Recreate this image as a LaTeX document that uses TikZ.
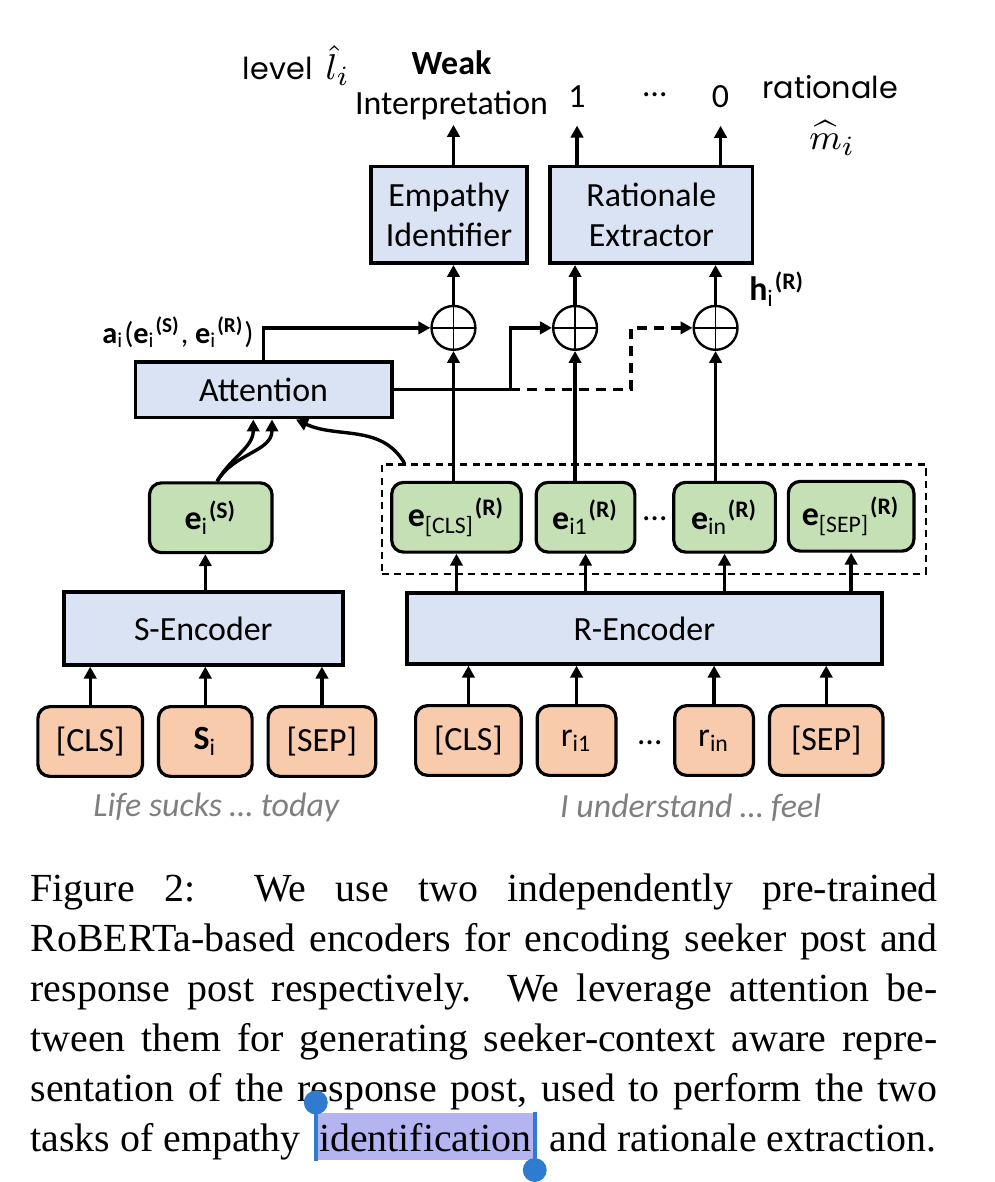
\documentclass[tikz,border=0pt]{standalone}
\usepackage{fontspec}
\setmainfont{Carlito}
\newfontfamily\capfont{Liberation Serif}
\newfontfamily\gothic{Poppins}
\usetikzlibrary{arrows.meta,calc}

\definecolor{blockblue}{HTML}{DAE3F3}
\definecolor{embgreen}{HTML}{C5E0B4}
\definecolor{tokorange}{HTML}{F8CBAD}
\definecolor{notegray}{HTML}{7F7F7F}
\definecolor{hlfill}{HTML}{B4B4F0}
\definecolor{handleblue}{HTML}{2E7BCF}

\newcommand{\tsub}[1]{\textsubscript{#1}}
\newcommand{\tsup}[1]{\textsuperscript{\textbf{#1}}}

\begin{document}
\begin{tikzpicture}[
		x=0.25pt, y=-0.25pt,
		every node/.style={font=\fontsize{8.5}{10}\selectfont},
		>={Triangle[length=3pt,width=3.1pt]},
		block/.style={draw, line width=0.95pt, fill=blockblue, inner sep=0pt, align=center},
		emb/.style={draw, line width=0.8pt, fill=embgreen, rounded corners=3pt, inner sep=0pt, minimum height=17.5pt},
		tok/.style={draw, line width=0.8pt, fill=tokorange, rounded corners=3pt, inner sep=0pt, minimum height=17.5pt},
		oplus/.style={circle, draw, line width=0.6pt, minimum size=11pt, inner sep=0pt,
			path picture={\draw[line width=0.45pt] (path picture bounding box.north) -- (path picture bounding box.south)
				(path picture bounding box.west) -- (path picture bounding box.east);}},
		arrow/.style={->, line width=0.85pt},
		dasharrow/.style={->, line width=0.85pt, dash pattern=on 2.5pt off 1.8pt},
		lbl/.style={inner sep=0pt},
		num/.style={inner sep=0pt, outer ysep=4.5pt, anchor=base},
		note/.style={font=\fontsize{8.5}{10}\selectfont\itshape, text=notegray},
		capline/.style={inner sep=0pt, anchor=base west, font=\capfont\fontsize{10}{12.5}\selectfont},
		hlword/.style={anchor=base, fill=hlfill, inner xsep=0.6pt, inner ysep=0pt, text height=9.5pt, text depth=2.25pt, font=\capfont\fontsize{10}{12.5}\selectfont},
		handleline/.style={draw=handleblue, line width=1pt},
		]
		
		% -------- Output labels --------
		\node[lbl, anchor=base west, font=\gothic\fontsize{7.6}{9}\selectfont] (lvl) at (243,80) {level\, {\fontsize{9.5}{11}\selectfont$\hat{l}_i$}};
		\node[lbl, anchor=base, font=\fontsize{8.5}{10}\selectfont\bfseries] (weak) at (453,75) {Weak};
		\node[lbl, anchor=base, outer ysep=1.2pt] (interp) at (453,115) {Interpretation};
		\node[num] (one) at (579,108) {1};
		\node[lbl, anchor=base] (odots) at (657,97) {…};
		\node[num] (zero) at (723,108) {0};
		\node[lbl, anchor=base, font=\gothic\fontsize{7.6}{9}\selectfont] (rat) at (833,99) {rationale};
		\node[lbl, anchor=base, font=\fontsize{9.5}{11}\selectfont] (mhat) at (835,150) {$\widehat{m}_i$};
		
		% -------- Heads --------
		\node[block, minimum width=39.25pt, minimum height=24.25pt] (ei) at (450.5,215.5) {Empathy\\Identifier};
		\node[block, minimum width=50.75pt, minimum height=24.25pt] (re) at (653.5,215.5) {Rationale\\Extractor};
		
		% -------- Sums --------
		\node[oplus] (op1) at (455,329) {};
		\node[oplus] (op2) at (577,329) {};
		\node[oplus] (op3) at (718,329) {};
		\node[lbl, anchor=base west] (hlab) at (751,302) {\textbf{h}\tsub{i}\tsup{(R)}};
		
		% -------- Attention --------
		\node[block, minimum width=64.25pt, minimum height=14pt] (att) at (264.5,391) {Attention};
		\node[lbl, anchor=base west, font=\fontsize{7.6}{9}\selectfont] (alab) at (102,345) {\textbf{a}\tsub{i}(\textbf{e}\tsub{i}\tsup{(S)}, \textbf{e}\tsub{i}\tsup{(R)})};
		\coordinate (jn) at (512,391);
		\coordinate (jd) at (633,391);
		
		% -------- Embeddings --------
		\node[emb, minimum width=30.75pt] (es) at (211.5,519.5) {\textbf{e}\tsub{i}\tsup{(S)}};
		\node[draw, line width=0.55pt, dash pattern=on 1.8pt off 1.3pt, minimum width=136.5pt, minimum height=27.5pt, inner sep=0pt] (ebox) at (656,521) {};
		\node[emb, minimum width=32.5pt] (ecls) at (458,519) {\textbf{e}\tsub{[CLS]}\tsup{(R)}};
		\node[emb, minimum width=24.75pt] (ei1) at (587.5,519) {\textbf{e}\tsub{i1}\tsup{(R)}};
		\node (edots) at (657,520) {…};
		\node[emb, minimum width=25.5pt] (ein) at (727,519) {\textbf{e}\tsub{in}\tsup{(R)}};
		\node[emb, minimum width=31.5pt] (esep) at (854,518) {\textbf{e}\tsub{[SEP]}\tsup{(R)}};
		
		% -------- Encoders --------
		\node[block, minimum width=70pt, minimum height=18.25pt] (senc) at (204,630.5) {S-Encoder};
		\node[block, minimum width=119.25pt, minimum height=17.75pt] (renc) at (646.5,630.5) {R-Encoder};
		
		% -------- Inputs --------
		\node[tok, minimum width=26.25pt] (scls) at (90.5,744) {[CLS]};
		\node[tok, minimum width=23.5pt] (si) at (206,744) {\textbf{S}\tsub{i}};
		\node[tok, minimum width=27pt] (ssep) at (323,744) {[SEP]};
		\node[tok, minimum width=26.5pt] (rcls) at (470,743) {[CLS]};
		\node[tok, minimum width=19.75pt] (ri1) at (578.5,743) {r\tsub{i1}};
		\node (tdots) at (652,745) {…};
		\node[tok, minimum width=19.75pt] (rin) at (716.5,743) {r\tsub{in}};
		\node[tok, minimum width=28.5pt] (rsep) at (829,743) {[SEP]};
		\node[note] (snote) at (217,810) {Life sucks … today};
		\node[note] (rnote) at (693,810) {I understand … feel};
		
		% ---- Inputs to encoders ----
		\draw[arrow] (scls.north) -- (scls |- senc.south);
		\draw[arrow] (si.north) -- (si |- senc.south);
		\draw[arrow] (ssep.north) -- (ssep |- senc.south);
		\draw[arrow] (rcls.north) -- (rcls |- renc.south);
		\draw[arrow] (ri1.north) -- (ri1 |- renc.south);
		\draw[arrow] (rin.north) -- (rin |- renc.south);
		\draw[arrow] (rsep.north) -- (rsep |- renc.south);
		
		% ---- Encoders to embeddings ----
		\draw[arrow] (senc.north -| si) -- (si |- es.south);
		\draw[arrow] (renc.north -| ecls) -- (ecls.south);
		\draw[arrow] (renc.north -| ei1) -- (ei1.south);
		\draw[arrow] (renc.north -| ein) -- (ein.south);
		\draw[arrow] (renc.north -| esep) -- (esep.south);
		
		% ---- Embeddings to attention ----
		\draw[arrow] ([xshift=1.6pt]es.north) to[out=60,in=-90] ([xshift=-2.6pt]att.south);
		\draw[arrow] ([xshift=1.6pt]es.north) to[out=60,in=-90] ([xshift=2.1pt]att.south);
		\draw[arrow] ([xshift=6pt]ebox.north west) to[out=120,in=-25] ([xshift=8.1pt]att.south);
		
		% ---- Embeddings to sums ----
		\draw[arrow] (ecls.north -| op1) -- (op1.south);
		\draw[arrow] (ei1.north -| op2) -- (op2.south);
		\draw[arrow] (ein.north -| op3) -- (op3.south);
		
		% ---- Attention to sums ----
		\draw[arrow] (att.north) |- (op1.west);
		\draw[arrow] (att.east) -- (jn) |- (op2.west);
		\draw[dasharrow] (jn) -- (jd) |- (op3.west);
		
		% ---- Sums to heads ----
		\draw[arrow] (op1.north) -- (op1 |- ei.south);
		\draw[arrow] (op2.north) -- (op2 |- re.south);
		\draw[arrow] (op3.north) -- (op3 |- re.south);
		
		% ---- Heads to outputs ----
		\draw[arrow] (ei.north -| op1) -- (op1 |- interp.south);
		\draw[arrow] (re.north -| one) -- (one.south);
		\draw[arrow] (re.north -| zero) -- (zero.south);
		
		% -------- Caption --------
		\node[capline] (cap1) at (30,905) {\makebox[227.5pt][s]{Figure 2:\ \ We use two independently pre-trained}};
		\node[capline] (cap2) at (30,955) {\makebox[227.5pt][s]{RoBERTa-based encoders for encoding seeker post and}};
		\node[capline] (cap3) at (30,1005) {\makebox[227.5pt][s]{response post respectively.\ \ We leverage attention be-}};
		\node[capline] (cap4) at (30,1055) {\makebox[227.5pt][s]{tween them for generating seeker-context aware repre-}};
		\node[capline] (cap5) at (30,1105) {\makebox[227.5pt][s]{sentation of the response post, used to perform the two}};
		\node[capline] (cap6a) at (30,1155) {tasks of empathy};
		\node[capline, anchor=base east] (cap6c) at (940,1155) {and rationale extraction.};
		\node[hlword] (hl) at ($(cap6a.base east)!0.5!(cap6c.base west)$) {identification};
		
		% Selection handles
		\draw[handleline] (hl.north west) -- (hl.south west);
		\fill[handleblue] ([yshift=2.5pt]hl.north west) circle (3pt);
		\draw[handleline] (hl.north east) -- (hl.south east);
		\fill[handleblue] ([yshift=-2.3pt]hl.south east) circle (3pt);
		
		\useasboundingbox (0,0) rectangle (998,1182);
		
	\end{tikzpicture}
\end{document}
